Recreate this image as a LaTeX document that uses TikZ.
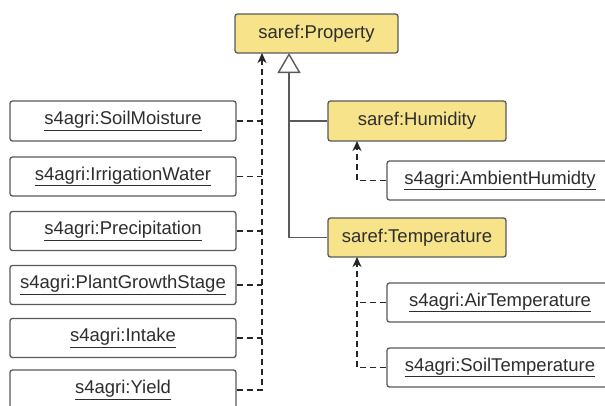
\documentclass[tikz,border=0pt]{standalone}
\usepackage{fontspec}
\setmainfont{Liberation Sans}
\usetikzlibrary{arrows.meta}
\definecolor{boxyellow}{HTML}{F6E38A}
\definecolor{boxedge}{HTML}{5A5A5A}
\definecolor{txt}{HTML}{2E2E2E}
\tikzset{
  base/.style={draw=boxedge, line width=1.3pt, rounded corners=2.5pt, minimum height=39pt,
    inner sep=0pt, text=txt, font=\fontsize{18.5}{22}\selectfont},
  saref/.style={base, fill=boxyellow},
  agri/.style={base, fill=white},
  realize/.style={draw=black!85, line width=1.5pt, dash pattern=on 6pt off 4pt},
  rtip/.style={-{Stealth[length=10pt,width=9pt,inset=3pt]}},
  gener/.style={draw=boxedge, line width=1.4pt},
}
\begin{document}
\begin{tikzpicture}[x=1pt,y=-1pt]
\clip (0,0) rectangle (605,405);
\fill[white] (0,0) rectangle (605,405);
% saref classes
\node[saref, minimum width=163pt] (prop) at (316.5,33.5) {saref:Property};
\node[saref, minimum width=178pt, minimum height=40pt] (hum) at (417,121) {saref:Humidity};
\node[saref, minimum width=178pt] (temp) at (417,237.5) {saref:Temperature};
% right s4agri classes
\node[agri, minimum width=226pt] (amb) at (500,180.5) {\underline{s4agri:AmbientHumidty}};
\node[agri, minimum width=226pt] (air) at (500,302.5) {\underline{s4agri:AirTemperature}};
\node[agri, minimum width=226pt] (soilt) at (500,367.5) {\underline{s4agri:SoilTemperature}};
% left s4agri classes
\node[agri, minimum width=226pt, minimum height=40pt] (sm) at (123,121) {\underline{s4agri:SoilMoisture}};
\node[agri, minimum width=226pt] (iw) at (123,176.5) {\underline{s4agri:IrrigationWater}};
\node[agri, minimum width=226pt] (pr) at (123,231) {\underline{s4agri:Precipitation}};
\node[agri, minimum width=226pt] (pg) at (123,285) {\underline{s4agri:PlantGrowthStage}};
\node[agri, minimum width=226pt] (in) at (123,338) {\underline{s4agri:Intake}};
\node[agri, minimum width=226pt, minimum height=40pt] (yi) at (123,390) {\underline{s4agri:Yield}};
% helper coordinates
\coordinate (lbus) at (262,53);
\coordinate (gen) at (289,53);
\coordinate (hbus) at (357,141);
\coordinate (tbus) at (357,257);
% generalisation
\draw[gener] (hum.west) -- (hum.west -| gen);
\draw[gener, -{Triangle[open, length=20pt, width=23pt, line width=1.4pt]}] (temp.west) -| (gen);
% left realisations
\draw[realize, rtip] (yi.east) -| (lbus);
\foreach \n in {sm,iw,pr,pg,in}
  \draw[realize] (\n.east) -- (\n.east -| lbus);
% humidity
\draw[realize, rtip] (amb.west) -| (hbus);
% temperature
\draw[realize, rtip] (soilt.west) -| (tbus);
\draw[realize] (air.west) -- (air.west -| tbus);
\end{tikzpicture}
\end{document}
